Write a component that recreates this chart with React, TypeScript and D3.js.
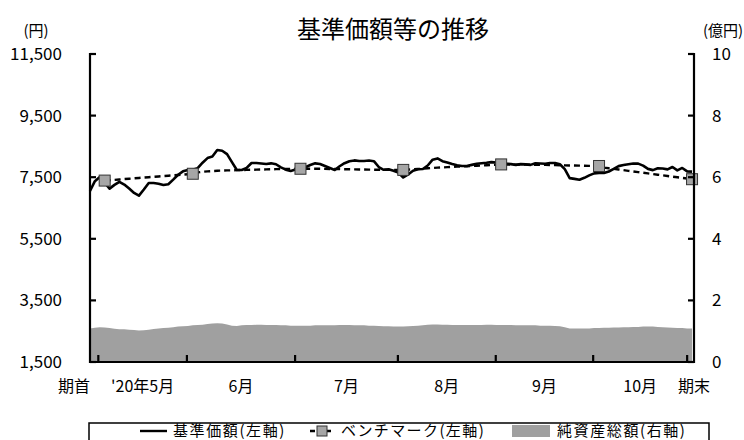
import * as d3 from "d3"

// 基準価額 (円), one value per trading day from 期首 to 期末
const navValues = [
  7052, 7370, 7504, 7320, 7130, 7250, 7350, 7260, 7130, 6990,
  6900, 7100, 7312, 7312, 7290, 7245, 7270, 7420, 7580, 7690,
  7734, 7740, 7795, 7970, 8120, 8170, 8384, 8360, 8250, 7990,
  7734, 7734, 7800, 7962, 7962, 7945, 7930, 7950, 7920, 7820,
  7745, 7705, 7750, 7800, 7825, 7895, 7950, 7930, 7864, 7800,
  7735, 7855, 7955, 8020, 8045, 8027, 8027, 8040, 8020, 7830,
  7740, 7760, 7710, 7650, 7490, 7590, 7710, 7760, 7767, 7880,
  8070, 8110, 8020, 7975, 7925, 7885, 7864, 7864, 7900, 7935,
  7955, 7970, 7990, 7975, 7960, 7940, 7925, 7900, 7925, 7915,
  7900, 7955, 7945, 7935, 7960, 7962, 7920, 7760, 7470, 7445,
  7420, 7480, 7560, 7625, 7637, 7637, 7685, 7770, 7860, 7895,
  7920, 7945, 7940, 7875, 7770, 7730, 7790, 7780, 7755, 7830,
  7720, 7800, 7690, 7680,
]

// ベンチマーク (円), starts at day BENCH_START
const BENCH_START = 3
const benchValues = [
  7390, 7402, 7414, 7427, 7439, 7451, 7463, 7476, 7488, 7500,
  7512, 7524, 7537, 7549, 7561, 7573, 7586, 7598, 7612, 7655,
  7675, 7690, 7700, 7708, 7715, 7720, 7725, 7730, 7734, 7738,
  7742, 7746, 7750, 7754, 7758, 7762, 7765, 7768, 7770, 7772,
  7774, 7775, 7775, 7774, 7772, 7770, 7768, 7765, 7762, 7760,
  7757, 7754, 7751, 7748, 7746, 7744, 7742, 7740, 7739, 7738,
  7737, 7737, 7745, 7755, 7767, 7778, 7789, 7800, 7810, 7818,
  7826, 7834, 7842, 7850, 7857, 7865, 7872, 7880, 7888, 7897,
  7905, 7915, 7912, 7910, 7909, 7908, 7907, 7906, 7904, 7902,
  7900, 7897, 7893, 7889, 7885, 7882, 7880, 7876, 7872, 7868,
  7866, 7864, 7810, 7790, 7770, 7750, 7728, 7707, 7686, 7665,
  7644, 7623, 7602, 7581, 7560, 7539, 7518, 7497, 7476, 7456,
  7435,
]
// days that get a marker (month ends + 期末)
const benchMarkerDays = [3, 21, 43, 64, 84, 104, 123]

// 純資産総額 (億円)
const assetValues = [
  1.09, 1.11, 1.13, 1.12, 1.10, 1.08, 1.06, 1.06, 1.05, 1.04,
  1.02, 1.03, 1.05, 1.07, 1.09, 1.10, 1.11, 1.13, 1.15, 1.16,
  1.17, 1.19, 1.20, 1.21, 1.23, 1.25, 1.26, 1.25, 1.22, 1.18,
  1.17, 1.19, 1.20, 1.20, 1.21, 1.21, 1.20, 1.20, 1.20, 1.19,
  1.19, 1.18, 1.18, 1.18, 1.18, 1.18, 1.19, 1.19, 1.19, 1.19,
  1.19, 1.20, 1.20, 1.20, 1.19, 1.19, 1.19, 1.18, 1.18, 1.17,
  1.16, 1.16, 1.15, 1.15, 1.15, 1.16, 1.17, 1.18, 1.19, 1.21,
  1.22, 1.22, 1.21, 1.21, 1.20, 1.20, 1.20, 1.20, 1.20, 1.20,
  1.20, 1.21, 1.21, 1.20, 1.20, 1.20, 1.20, 1.19, 1.19, 1.19,
  1.19, 1.19, 1.18, 1.18, 1.18, 1.17, 1.16, 1.13, 1.09, 1.09,
  1.09, 1.09, 1.09, 1.10, 1.10, 1.11, 1.11, 1.12, 1.12, 1.13,
  1.13, 1.14, 1.14, 1.15, 1.15, 1.15, 1.14, 1.13, 1.12, 1.11,
  1.10, 1.10, 1.09, 1.09,
]

const leftTicks = [1500, 3500, 5500, 7500, 9500, 11500]
const rightTicks = [0, 2, 4, 6, 8, 10]
// month boundaries (trading-day index)
const monthTicks = [1.7, 19.8, 41.9, 62.9, 82.9, 102.8, 122]
const monthLabels = ["'20年5月", "6月", "7月", "8月", "9月", "10月"]

const W = 744
const H = 440
const FONT = "'Noto Sans CJK JP', 'Noto Sans', sans-serif"

export default function App() {
  const x = d3.scaleLinear().domain([0, 123.4]).range([90, 694])
  const yL = d3.scaleLinear().domain([1500, 11500]).range([362, 54])
  const yR = d3.scaleLinear().domain([0, 10]).range([362, 54])

  const area = d3.area<number>()
    .x((_, i) => x(i))
    .y0(yR(0))
    .y1((d) => yR(d))
  const navLine = d3.line<number>()
    .x((_, i) => x(i))
    .y((d) => yL(d))
  const benchLine = d3.line<number>()
    .x((_, i) => x(i + BENCH_START))
    .y((d) => yL(d))

  const fmt = d3.format(",")
  const last = navValues.length - 1

  return (
    <div style={{ position: "absolute", left: 0, top: 0 }}>
      <svg width={W} height={H} style={{ display: "block", fontFamily: FONT }}>
        <rect width={W} height={H} fill="#fff" />

        <text x={393} y={38} textAnchor="middle" fontSize={24} fill="#000">基準価額等の推移</text>
        <text x={36} y={36} textAnchor="middle" fontSize={15} fill="#000">(円)</text>
        <text x={703} y={36} fontSize={15} fill="#000">(億円)</text>

        <path d={area(assetValues) ?? ""} fill="#a0a0a0" />

        <path d={benchLine(benchValues) ?? ""} fill="none" stroke="#000" strokeWidth={2.4} strokeDasharray="6,4" />
        <path d={navLine(navValues) ?? ""} fill="none" stroke="#000" strokeWidth={2.6} strokeLinejoin="round" />
        {benchMarkerDays.map((d) => (
          <rect key={d} x={x(d) - 5.5} y={yL(benchValues[d - BENCH_START]) - 5.5} width={11} height={11}
            fill="#a6a6a6" stroke="#333" strokeWidth={1} />
        ))}

        {/* axes */}
        <g stroke="#000" strokeWidth={2.2} fill="none">
          <line x1={90} y1={53} x2={90} y2={363} />
          <line x1={694} y1={53} x2={694} y2={363} />
          <line x1={89} y1={362} x2={695} y2={362} />
          {leftTicks.map((t) => (
            <line key={"l" + t} x1={90} x2={96} y1={yL(t)} y2={yL(t)} />
          ))}
          {rightTicks.map((t) => (
            <line key={"r" + t} x1={688} x2={694} y1={yR(t)} y2={yR(t)} />
          ))}
          {monthTicks.map((t) => (
            <line key={"m" + t} x1={x(t)} x2={x(t)} y1={362} y2={355} />
          ))}
        </g>

        {leftTicks.map((t) => (
          <text key={"lt" + t} x={62} y={yL(t) + 6} textAnchor="end" fontSize={17} fill="#000">{fmt(t)}</text>
        ))}
        {rightTicks.map((t) => (
          <text key={"rt" + t} x={712} y={yR(t) + 6} fontSize={17} fill="#000">{t}</text>
        ))}

        <text x={x(0) - 16} y={392} textAnchor="middle" fontSize={16} fill="#000">期首</text>
        {monthLabels.map((m, i) => (
          <text key={m} x={(x(monthTicks[i]) + x(monthTicks[i + 1])) / 2} y={392} textAnchor="middle" fontSize={16} fill="#000">{m}</text>
        ))}
        <text x={x(last) + 2} y={392} textAnchor="middle" fontSize={16} fill="#000">期末</text>

        {/* legend */}
        <rect x={89} y={423} width={620} height={32} fill="none" stroke="#000" strokeWidth={1.5} />
        <line x1={140} x2={167} y1={431} y2={431} stroke="#000" strokeWidth={2.4} />
        <text x={173} y={436} fontSize={15} letterSpacing={1.6} fill="#000">基準価額(左軸)</text>
        <line x1={310} x2={334} y1={431} y2={431} stroke="#000" strokeWidth={2.4} strokeDasharray="5,3" />
        <rect x={317} y={426} width={10} height={10} fill="#a6a6a6" stroke="#333" strokeWidth={1} />
        <text x={341} y={436} fontSize={15} letterSpacing={1.4} fill="#000">ベンチマーク(左軸)</text>
        <rect x={512} y={425} width={38} height={12} fill="#a0a0a0" />
        <text x={557} y={436} fontSize={15} letterSpacing={1.6} fill="#000">純資産総額(右軸)</text>
      </svg>
    </div>
  )
}
